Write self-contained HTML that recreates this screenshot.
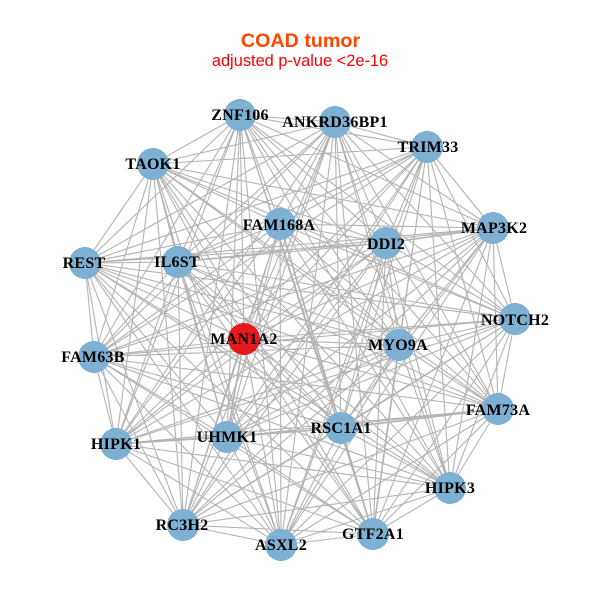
<!DOCTYPE html>
<html>
<head>
<meta charset="utf-8">
<style>
html,body{margin:0;padding:0;background:#fff;width:600px;height:600px;overflow:hidden}
svg{display:block}
.l{font-family:"Liberation Serif",serif;font-weight:bold;font-size:16px;fill:#000;text-anchor:middle;letter-spacing:.25px}
</style>
</head>
<body>
<svg id="s" xmlns="http://www.w3.org/2000/svg" width="600" height="600" viewBox="0 0 600 600">
<rect width="600" height="600" fill="#fff"/>
<g id="e" stroke="#b3b3b3" stroke-width="1.1" fill="none"></g>
<g id="thick" stroke="#b3b3b3" stroke-width="1.6" fill="none">
<line x1="341" y1="428" x2="498" y2="409"/>
<line x1="341" y1="428" x2="373" y2="534"/>
<line x1="280" y1="224" x2="341" y2="428"/>
<line x1="116" y1="444" x2="227" y2="437"/>
<line x1="227" y1="437" x2="341" y2="428"/>
<line x1="386" y1="243" x2="493" y2="228"/>
<line x1="244" y1="339" x2="227" y2="437"/>
<line x1="373" y1="534" x2="399" y2="345"/>
</g>
<g id="n" fill="#7eb0d3" shape-rendering="crispEdges">
<circle cx="240" cy="115" r="16"/>
<circle cx="153" cy="164" r="16"/>
<circle cx="85" cy="263" r="16"/>
<circle cx="178" cy="262" r="16"/>
<circle cx="280" cy="224" r="16"/>
<circle cx="335" cy="122" r="16"/>
<circle cx="427" cy="147" r="16"/>
<circle cx="493" cy="228" r="16"/>
<circle cx="386" cy="243" r="16"/>
<circle cx="515" cy="319" r="16"/>
<circle cx="94" cy="357" r="16"/>
<circle cx="116" cy="444" r="16"/>
<circle cx="227" cy="437" r="16"/>
<circle cx="183" cy="525" r="16"/>
<circle cx="281" cy="545" r="16"/>
<circle cx="399" cy="345" r="16"/>
<circle cx="498" cy="409" r="16"/>
<circle cx="341" cy="428" r="16"/>
<circle cx="450" cy="488" r="16"/>
<circle cx="373" cy="534" r="16"/>
<circle cx="244" cy="339" r="16" fill="#e41a1c"/>
</g>
<g>
<text class="l" x="240" y="120">ZNF106</text>
<text class="l" x="153" y="169">TAOK1</text>
<text class="l" x="84" y="268">REST</text>
<text class="l" x="177" y="267">IL6ST</text>
<text class="l" x="279" y="230">FAM168A</text>
<text class="l" x="335" y="127">ANKRD36BP1</text>
<text class="l" x="428" y="152">TRIM33</text>
<text class="l" x="494" y="233">MAP3K2</text>
<text class="l" x="386" y="249">DDI2</text>
<text class="l" x="515" y="325">NOTCH2</text>
<text class="l" x="244" y="344">MAN1A2</text>
<text class="l" x="93" y="362">FAM63B</text>
<text class="l" x="116" y="449">HIPK1</text>
<text class="l" x="227" y="442">UHMK1</text>
<text class="l" x="182" y="530">RC3H2</text>
<text class="l" x="281" y="550">ASXL2</text>
<text class="l" x="398" y="350">MYO9A</text>
<text class="l" x="498" y="415">FAM73A</text>
<text class="l" x="341" y="433">RSC1A1</text>
<text class="l" x="450" y="493">HIPK3</text>
<text class="l" x="373" y="539">GTF2A1</text>
</g>
<text x="300.5" y="47" text-anchor="middle" font-family="'Liberation Sans',sans-serif" font-weight="bold" font-size="19.7" fill="#ff4500">COAD tumor</text>
<text x="300" y="66" text-anchor="middle" font-family="'Liberation Sans',sans-serif" font-size="16.4" fill="#ff0000">adjusted p-value &lt;2e-16</text>
</svg>
<script>
var p=[[240,115],[153,164],[85,263],[178,262],[280,224],[335,122],[427,147],[493,228],[386,243],[515,319],[244,339],[94,357],[116,444],[227,437],[183,525],[281,545],[399,345],[498,409],[341,428],[450,488],[373,534]];
var d="";
for(var i=0;i<p.length;i++){for(var j=i+1;j<p.length;j++){d+="M"+p[i][0]+" "+p[i][1]+"L"+p[j][0]+" "+p[j][1];}}
var e=document.createElementNS("http://www.w3.org/2000/svg","path");
e.setAttribute("d",d);
document.getElementById("e").appendChild(e);
</script>
</body>
</html>
